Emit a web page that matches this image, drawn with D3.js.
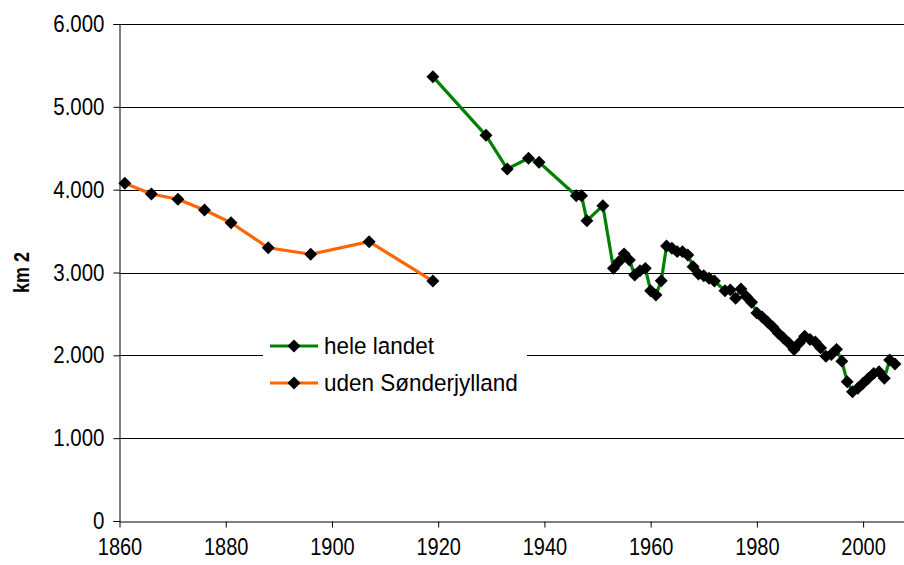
<!DOCTYPE html>
<html>
<head>
<meta charset="utf-8">
<script src="https://cdn.jsdelivr.net/npm/d3@7"></script>
<style>
  body { margin: 0; background: #fff; }
  svg { display: block; }
  text { font-family: "Liberation Sans", Arial, sans-serif; }
</style>
</head>
<body>
<script>
// hele landet
const greenYears = [1919,1929,1933,1937,1939,1946,1947,1948,1951,1953,1954,1955,1956,1957,1958,1959,
  1960,1961,1962,1963,1964,1965,1966,1967,1968,1969,1970,1971,1972,1974,1975,1976,1977,1978,1979,
  1980,1981,1982,1983,1984,1985,1986,1987,1988,1989,1990,1991,1992,1993,1994,1995,1996,1997,1998,1999,
  2000,2001,2002,2003,2004,2005,2006];
const greenValues = [5364,4656,4250,4379,4331,3927,3927,3626,3807,3050,3130,3225,3150,2970,3020,3050,
  2780,2729,2900,3320,3292,3252,3252,3211,3070,2982,2962,2930,2897,2780,2790,2690,2800,2710,2640,
  2510,2463,2403,2342,2270,2209,2149,2070,2149,2230,2190,2160,2090,1990,2010,2072,1930,1682,1561,1602,
  1662,1722,1782,1802,1722,1943,1895];

// uden Sønderjylland
const orangeYears = [1861,1866,1871,1876,1881,1888,1896,1907,1919];
const orangeValues = [4077,3948,3884,3755,3601,3299,3220,3372,2897];

const xTicks = [1860,1880,1900,1920,1940,1960,1980,2000];
const yTicks = [0,1000,2000,3000,4000,5000,6000];
const seriesNames = ["hele landet", "uden Sønderjylland"];

const W = 904, H = 565;
const margin = {top: 24, right: 0, bottom: 44, left: 119.5};
const stretch = 1.15; // text in the original looks a bit taller than wide

const svg = d3.select("body").append("svg")
  .attr("width", W).attr("height", H);

const x = d3.scaleLinear()
  .domain([1860, 2007.7])
  .range([margin.left, W - margin.right]);

const y = d3.scaleLinear()
  .domain([0, 6000])
  .range([H - margin.bottom, margin.top]);

const fmt = d => d3.format(",")(d).replace(/,/g, ".");

// gridlines
svg.append("g")
  .selectAll("line")
  .data(yTicks.filter(d => d > 0))
  .join("line")
    .attr("x1", margin.left).attr("x2", W)
    .attr("y1", d => Math.round(y(d)) + 0.5)
    .attr("y2", d => Math.round(y(d)) + 0.5)
    .attr("stroke", "#000")
    .attr("stroke-width", 1);

// y axis
svg.append("g")
  .attr("transform", `translate(${margin.left},0)`)
  .call(d3.axisLeft(y).tickValues(yTicks).tickFormat(fmt).tickSize(6).tickPadding(9))
  .call(g => g.selectAll("text")
    .style("font-size", "20.5px").attr("fill", "#000")
    .attr("transform", `scale(1,${stretch})`))
  .call(g => g.selectAll("line, .domain").attr("stroke", "#000"));

// x axis
svg.append("g")
  .attr("transform", `translate(0,${Math.round(y(0)) + 0.5})`)
  .call(d3.axisBottom(x).tickValues(xTicks).tickFormat(d3.format("d")).tickSize(6).tickSizeOuter(0))
  .call(g => g.selectAll("text")
    .style("font-size", "20px").attr("fill", "#000")
    .attr("y", 0)
    .attr("transform", `translate(0,17) scale(1,${stretch})`))
  .call(g => g.selectAll("line, .domain").attr("stroke", "#000"));

svg.append("text")
  .attr("transform", `translate(29,${y(3000)}) rotate(-90) scale(1,1.2)`)
  .attr("text-anchor", "middle")
  .style("font-size", "18px")
  .style("font-weight", "bold")
  .text("km 2");

const line = d3.line()
  .x(d => x(d[0]))
  .y(d => y(d[1]));

const greenData = d3.zip(greenYears, greenValues);
const orangeData = d3.zip(orangeYears, orangeValues);

const series = [
  {name: seriesNames[0], data: greenData, color: "#008000"},
  {name: seriesNames[1], data: orangeData, color: "#ff6600"}
];

const diamond = d3.symbol().type(d3.symbolSquare).size(84);

series.forEach(function(s){
  svg.append("path")
    .datum(s.data)
    .attr("fill", "none")
    .attr("stroke", s.color)
    .attr("stroke-width", 3.2)
    .attr("stroke-linejoin", "round")
    .attr("d", line);

  svg.append("g")
    .selectAll("path")
    .data(s.data)
    .join("path")
      .attr("d", diamond)
      .attr("fill", "#000")
      .attr("transform", d => `translate(${x(d[0])},${y(d[1])}) rotate(45)`);
});

// legend
const legend = svg.append("g");
legend.append("rect")
  .attr("x", 263).attr("y", 328)
  .attr("width", 264).attr("height", 72)
  .attr("fill", "#fff");

const item = legend.selectAll("g")
  .data(series)
  .join("g")
    .attr("transform", (d, i) => `translate(270,${346 + i * 37})`);

item.append("line")
  .attr("x1", 0).attr("x2", 48)
  .attr("stroke", d => d.color)
  .attr("stroke-width", 3.2);

item.append("path")
  .attr("d", diamond)
  .attr("fill", "#000")
  .attr("transform", "translate(24,0) rotate(45)");

item.append("text")
  .attr("x", 54)
  .attr("dy", "0.35em")
  .attr("transform", "scale(1,1.07)")
  .style("font-size", "22.5px")
  .text(d => d.name);
</script>
</body>
</html>
